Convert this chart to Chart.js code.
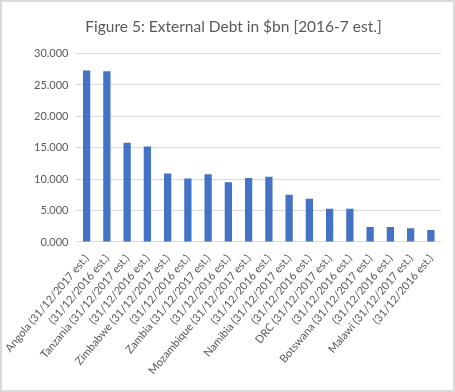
<!DOCTYPE html>
<html>
<head>
<meta charset="utf-8">
<script src="https://cdn.jsdelivr.net/npm/chart.js@4/dist/chart.umd.min.js"></script>
<style>
  html, body { margin: 0; padding: 0; background: #fff; }
  #wrap { width: 451px; height: 388px; border: 2px solid #d9d9d9; position: relative; }
</style>
</head>
<body>
<div id="wrap"><canvas id="chart1" width="451" height="388"></canvas></div>
<script>
const labels = [
  'Angola (31/12/2017 est.)', '(31/12/2016 est.)',
  'Tanzania (31/12/2017 est.)', '(31/12/2016 est.)',
  'Zimbabwe (31/12/2017 est.)', '(31/12/2016 est.)',
  'Zambia (31/12/2017 est.)', '(31/12/2016 est.)',
  'Mozambique (31/12/2017 est.)', '(31/12/2016 est.)',
  'Namibia (31/12/2017 est.)', '(31/12/2016 est.)',
  'DRC (31/12/2017 est.)', '(31/12/2016 est.)',
  'Botswana (31/12/2017 est.)', '(31/12/2016 est.)',
  'Malawi (31/12/2017 est.)', '(31/12/2016 est.)'
];
const debt = [27.3, 27.2, 15.8, 15.2, 10.9, 10.1, 10.8, 9.5, 10.2, 10.4, 7.5, 6.9, 5.3, 5.3, 2.4, 2.4, 2.2, 1.9];
const yTicks = [0, 5, 10, 15, 20, 25, 30];

function createChart1() {
    const ctx = document.getElementById('chart1');
    new Chart(ctx, {
        type: 'bar',
        data: {
            labels: labels,
            datasets: [{
                label: 'External Debt',
                data: debt,
                backgroundColor: '#4472c4',
                borderWidth: 0,
                barPercentage: 0.36,
                categoryPercentage: 1
            }]
        },
        options: {
            responsive: false,
            animation: false,
            layout: { padding: { top: 8, right: 12, bottom: 11, left: 24 } },
            plugins: {
                legend: { display: false },
                tooltip: { enabled: false },
                title: {
                    display: true,
                    text: 'Figure 5: External Debt in $bn [2016-7 est.]',
                    color: '#595959',
                    font: { family: 'Lato', size: 15.5, weight: 'normal' },
                    padding: { top: 8, bottom: 17 }
                }
            },
            scales: {
                x: {
                    grid: { display: false },
                    border: { display: false },
                    ticks: {
                        color: '#595959',
                        font: { family: 'Lato', size: 11 },
                        minRotation: 50,
                        maxRotation: 50,
                        autoSkip: false,
                        padding: 2
                    }
                },
                y: {
                    min: 0,
                    max: 30,
                    afterBuildTicks: (axis) => { axis.ticks = yTicks.map(v => ({ value: v })); },
                    grid: { color: '#d9d9d9', lineWidth: 1, drawTicks: false },
                    border: { display: false },
                    ticks: {
                        color: '#595959',
                        font: { family: 'Lato', size: 11 },
                        padding: 8,
                        callback: (v) => Number(v).toFixed(3)
                    }
                }
            }
        }
    });
}
createChart1();
</script>
</body>
</html>
